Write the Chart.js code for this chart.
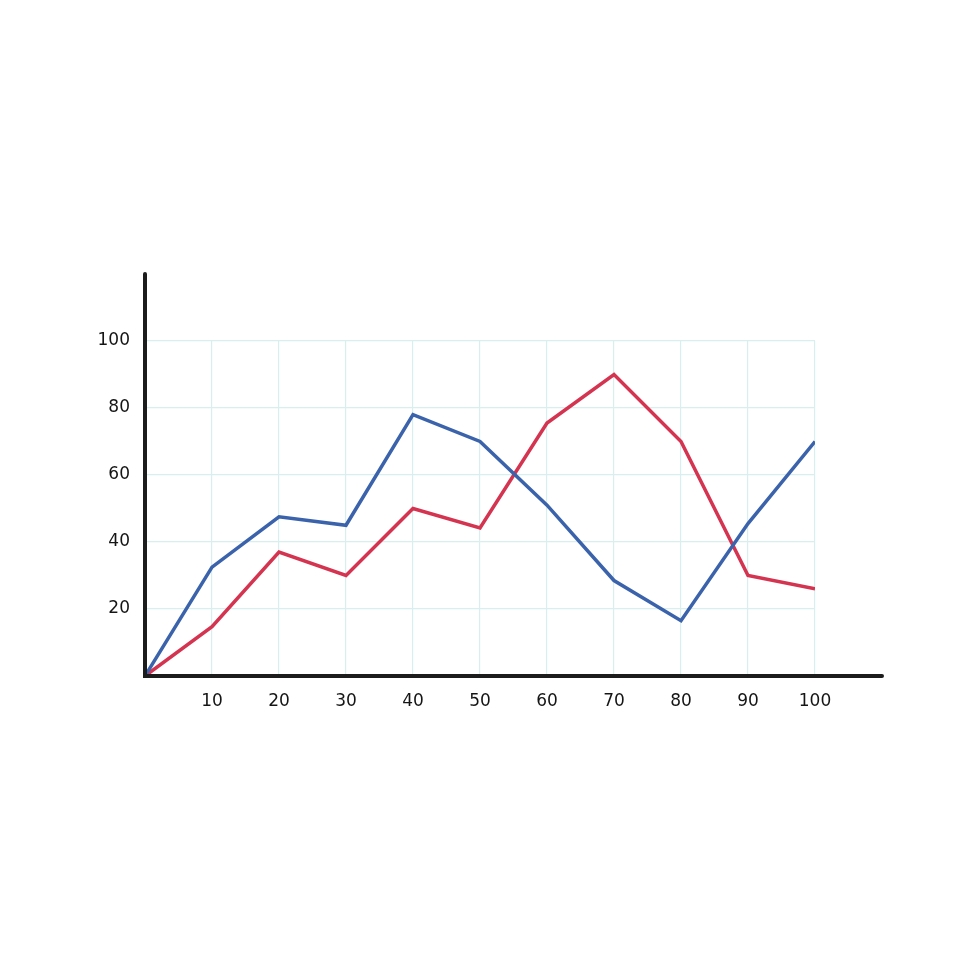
<!DOCTYPE html>
<html lang="en">
<head>
  <meta charset="UTF-8" />
  <title>Line chart</title>
  <script src="https://cdn.jsdelivr.net/npm/chart.js"></script>
  <style>
    html, body { margin:0; padding:0; background:#fff; }
    #wrap { width:980px; height:980px; position:relative; }
  </style>
</head>
<body>
  <div id="wrap"><canvas id="chart" width="980" height="980"></canvas></div>
  <script>
    // data
    const xValues = [0, 10, 20, 30, 40, 50, 60, 70, 80, 90, 100];
    const blueValues = [0, 32.5, 47.5, 45, 78, 70, 51, 28.5, 16.5, 45.5, 70];
    const redValues  = [0, 14.7, 37, 30, 50, 44.2, 75.5, 90, 70, 30, 26];
    const xTicks = [10, 20, 30, 40, 50, 60, 70, 80, 90, 100];
    const yTicks = [20, 40, 60, 80, 100];

    const pts = arr => xValues.map((x, i) => ({x: x, y: arr[i]}));

    // black axes that run past the grid
    const axisLines = {
      id: 'axisLines',
      afterDraw(chart) {
        const {ctx, scales: {x, y}} = chart;
        const x0 = x.getPixelForValue(0), y0 = y.getPixelForValue(0);
        ctx.save();
        ctx.strokeStyle = '#1c1c1c';
        ctx.lineWidth = 4;
        ctx.lineCap = 'round';
        ctx.beginPath();
        ctx.moveTo(x0, y.getPixelForValue(120));
        ctx.lineTo(x0, y0);
        ctx.lineTo(x.getPixelForValue(110), y0);
        ctx.stroke();
        ctx.restore();
      }
    };

    const gridColor = c => c.tick.value === 0 ? 'rgba(0,0,0,0)' : '#d8efed';

    new Chart(document.getElementById('chart'), {
      type: 'line',
      data: {
        datasets: [
          {label: 'Blue', data: pts(blueValues), borderColor: '#3b63ab', borderWidth: 3.5, pointRadius: 0, tension: 0, fill: false},
          {label: 'Red', data: pts(redValues), borderColor: '#d4344f', borderWidth: 3.5, pointRadius: 0, tension: 0, fill: false}
        ]
      },
      options: {
        responsive: false,
        animation: false,
        layout: {padding: {top: 341, right: 165, left: 0, bottom: 0}},
        plugins: {legend: {display: false}, tooltip: {enabled: false}},
        scales: {
          x: {
            type: 'linear', min: 0, max: 100,
            afterFit: s => { s.height = 304; },
            afterBuildTicks: s => { s.ticks = [0].concat(xTicks).map(v => ({value: v})); },
            border: {display: false},
            grid: {color: gridColor, lineWidth: 1.2, drawTicks: false},
            ticks: {
              padding: 15, color: '#151515',
              font: {family: 'DejaVu Sans', size: 17},
              callback: v => v === 0 ? '' : v
            }
          },
          y: {
            min: 0, max: 100,
            afterFit: s => { s.width = 145; },
            afterBuildTicks: s => { s.ticks = [0].concat(yTicks).map(v => ({value: v})); },
            border: {display: false},
            grid: {color: gridColor, lineWidth: 1.2, drawTicks: false},
            ticks: {
              padding: 15, color: '#151515',
              font: {family: 'DejaVu Sans', size: 17},
              callback: v => v === 0 ? '' : v
            }
          }
        }
      },
      plugins: [axisLines]
    });
  </script>
</body>
</html>
